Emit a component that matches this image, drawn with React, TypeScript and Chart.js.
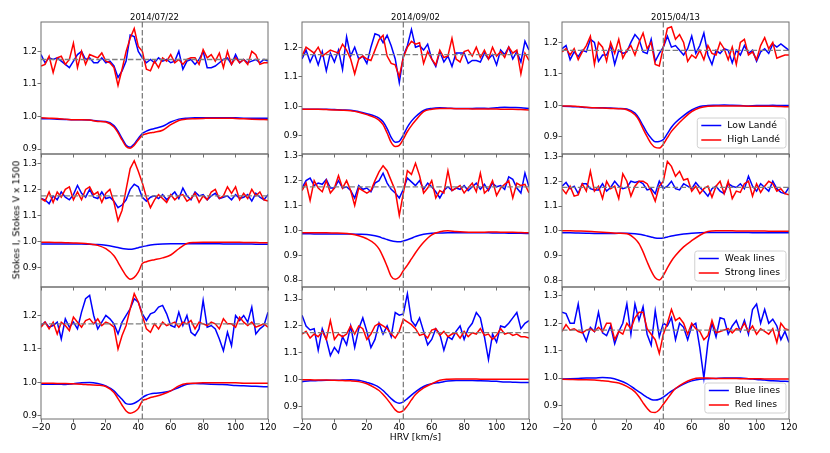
import React, { useEffect, useRef } from "react";
import { Chart, registerables } from "chart.js";

Chart.register(...registerables);

// velocity grids in km/s
const vGrid = [-20, -17.5, -15, -12.5, -10, -7.5, -5, -2.5, 0, 2.5, 5, 7.5, 10, 12.5, 15, 17.5, 20, 22.5, 25, 27.5, 30, 32.5, 35, 37.5, 40, 42.5, 45, 47.5, 50, 52.5, 55, 57.5, 60, 62.5, 65, 67.5, 70, 72.5, 75, 77.5, 80, 82.5, 85, 87.5, 90, 92.5, 95, 97.5, 100, 102.5, 105, 107.5, 110, 112.5, 115, 117.5, 120];
const iGrid = [-20, -15, -10, -5, 0, 5, 10, 15, 20, 25, 27.5, 30, 32.5, 35, 37.5, 40, 42.5, 45, 47.5, 50, 55, 60, 65, 70, 75, 80, 85, 90, 95, 100, 105, 110, 115, 120];

const xTicks = [-20, 0, 20, 40, 60, 80, 100, 120];
const yTicksLow = [0.9, 1.0, 1.1, 1.2];
const yTicksMid = [0.9, 1.0, 1.1, 1.2, 1.3];
const yTicksWide = [0.8, 0.9, 1.0, 1.1, 1.2, 1.3];

const epochs = ["2014/07/22", "2014/09/02", "2015/04/13"];
const landeNames = ["Low Landé", "High Landé"];
const depthNames = ["Weak lines", "Strong lines"];
const colourNames = ["Blue lines", "Red lines"];

const RV_CENTER = 42.5;
const V_LEVEL = 1.175;

// Stokes V x 1500 (shifted), on vGrid
const landeLowV1 = [1.19, 1.165, 1.18, 1.175, 1.18, 1.17, 1.16, 1.15, 1.17, 1.19, 1.2, 1.175, 1.18, 1.165, 1.165, 1.18, 1.165, 1.17, 1.155, 1.12, 1.14, 1.17, 1.25, 1.245, 1.2, 1.18, 1.165, 1.175, 1.165, 1.18, 1.17, 1.175, 1.165, 1.17, 1.2, 1.145, 1.17, 1.175, 1.16, 1.175, 1.2, 1.15, 1.15, 1.155, 1.165, 1.175, 1.18, 1.16, 1.19, 1.165, 1.175, 1.165, 1.17, 1.175, 1.165, 1.175, 1.17];
const landeHighV1 = [1.155, 1.16, 1.185, 1.135, 1.18, 1.185, 1.16, 1.175, 1.225, 1.15, 1.2, 1.16, 1.19, 1.185, 1.18, 1.195, 1.17, 1.165, 1.15, 1.095, 1.145, 1.2, 1.24, 1.27, 1.215, 1.2, 1.145, 1.14, 1.17, 1.15, 1.18, 1.17, 1.19, 1.165, 1.175, 1.16, 1.175, 1.18, 1.18, 1.16, 1.205, 1.18, 1.19, 1.17, 1.195, 1.15, 1.2, 1.16, 1.18, 1.165, 1.175, 1.16, 1.2, 1.19, 1.16, 1.165, 1.165];
const landeLowV2 = [1.16, 1.19, 1.15, 1.18, 1.14, 1.185, 1.12, 1.18, 1.15, 1.19, 1.125, 1.235, 1.17, 1.2, 1.16, 1.17, 1.145, 1.2, 1.245, 1.24, 1.215, 1.24, 1.205, 1.16, 1.08, 1.17, 1.205, 1.26, 1.2, 1.205, 1.19, 1.21, 1.16, 1.135, 1.185, 1.15, 1.17, 1.135, 1.18, 1.18, 1.18, 1.145, 1.155, 1.155, 1.15, 1.18, 1.16, 1.175, 1.14, 1.19, 1.175, 1.2, 1.16, 1.185, 1.15, 1.22, 1.19];
const landeHighV2 = [1.17, 1.2, 1.19, 1.18, 1.2, 1.17, 1.18, 1.19, 1.185, 1.18, 1.21, 1.19, 1.16, 1.11, 1.16, 1.17, 1.16, 1.155, 1.19, 1.225, 1.24, 1.17, 1.145, 1.14, 1.1, 1.165, 1.2, 1.22, 1.21, 1.215, 1.145, 1.185, 1.16, 1.14, 1.19, 1.165, 1.17, 1.23, 1.16, 1.15, 1.185, 1.19, 1.17, 1.2, 1.165, 1.19, 1.16, 1.2, 1.17, 1.185, 1.165, 1.2, 1.18, 1.19, 1.11, 1.18, 1.155];
const landeLowV3 = [1.18, 1.19, 1.145, 1.17, 1.155, 1.175, 1.17, 1.21, 1.2, 1.14, 1.16, 1.16, 1.19, 1.13, 1.175, 1.165, 1.17, 1.2, 1.225, 1.21, 1.17, 1.165, 1.21, 1.14, 1.165, 1.185, 1.22, 1.185, 1.19, 1.175, 1.16, 1.18, 1.22, 1.165, 1.19, 1.23, 1.16, 1.13, 1.175, 1.165, 1.18, 1.175, 1.135, 1.175, 1.16, 1.19, 1.165, 1.175, 1.14, 1.17, 1.18, 1.165, 1.195, 1.185, 1.195, 1.185, 1.175];
const landeHighV3 = [1.17, 1.18, 1.16, 1.18, 1.145, 1.17, 1.19, 1.22, 1.13, 1.2, 1.185, 1.14, 1.2, 1.165, 1.21, 1.15, 1.175, 1.19, 1.16, 1.2, 1.23, 1.18, 1.2, 1.13, 1.125, 1.185, 1.245, 1.25, 1.21, 1.225, 1.2, 1.14, 1.16, 1.15, 1.175, 1.145, 1.19, 1.165, 1.16, 1.2, 1.18, 1.145, 1.185, 1.13, 1.2, 1.21, 1.16, 1.17, 1.145, 1.19, 1.215, 1.18, 1.2, 1.15, 1.155, 1.16, 1.16];
const depthWeakV1 = [1.165, 1.16, 1.145, 1.175, 1.16, 1.19, 1.17, 1.16, 1.18, 1.215, 1.185, 1.17, 1.2, 1.17, 1.165, 1.19, 1.165, 1.17, 1.155, 1.13, 1.14, 1.16, 1.2, 1.22, 1.21, 1.17, 1.155, 1.17, 1.175, 1.165, 1.18, 1.16, 1.175, 1.19, 1.165, 1.205, 1.175, 1.16, 1.19, 1.175, 1.18, 1.16, 1.175, 1.185, 1.165, 1.17, 1.175, 1.16, 1.18, 1.165, 1.17, 1.18, 1.155, 1.185, 1.17, 1.16, 1.18];
const depthStrongV1 = [1.165, 1.155, 1.19, 1.15, 1.19, 1.17, 1.2, 1.21, 1.16, 1.19, 1.16, 1.2, 1.21, 1.18, 1.19, 1.15, 1.185, 1.2, 1.15, 1.08, 1.12, 1.2, 1.28, 1.31, 1.27, 1.225, 1.17, 1.13, 1.16, 1.18, 1.165, 1.15, 1.18, 1.16, 1.175, 1.18, 1.155, 1.165, 1.185, 1.15, 1.175, 1.16, 1.19, 1.2, 1.165, 1.175, 1.21, 1.185, 1.21, 1.16, 1.185, 1.165, 1.2, 1.175, 1.19, 1.16, 1.155];
const depthWeakV2 = [1.17, 1.2, 1.21, 1.18, 1.19, 1.185, 1.205, 1.17, 1.17, 1.2, 1.17, 1.175, 1.16, 1.13, 1.18, 1.165, 1.17, 1.155, 1.19, 1.2, 1.23, 1.19, 1.165, 1.15, 1.13, 1.165, 1.21, 1.195, 1.18, 1.2, 1.165, 1.19, 1.175, 1.155, 1.13, 1.16, 1.175, 1.16, 1.17, 1.165, 1.18, 1.16, 1.175, 1.19, 1.165, 1.185, 1.16, 1.19, 1.175, 1.18, 1.165, 1.215, 1.205, 1.17, 1.15, 1.23, 1.175];
const depthStrongV2 = [1.16, 1.19, 1.12, 1.2, 1.17, 1.155, 1.2, 1.15, 1.17, 1.22, 1.17, 1.2, 1.16, 1.1, 1.17, 1.16, 1.15, 1.16, 1.2, 1.235, 1.26, 1.24, 1.2, 1.16, 1.06, 1.15, 1.24, 1.225, 1.27, 1.22, 1.15, 1.17, 1.2, 1.13, 1.16, 1.15, 1.24, 1.16, 1.17, 1.18, 1.15, 1.17, 1.19, 1.155, 1.23, 1.15, 1.165, 1.2, 1.14, 1.17, 1.185, 1.2, 1.13, 1.19, 1.18, 1.185, 1.15];
const depthWeakV3 = [1.18, 1.195, 1.17, 1.18, 1.15, 1.19, 1.19, 1.17, 1.165, 1.165, 1.19, 1.16, 1.175, 1.2, 1.18, 1.17, 1.175, 1.2, 1.195, 1.2, 1.19, 1.165, 1.17, 1.15, 1.2, 1.17, 1.18, 1.2, 1.17, 1.165, 1.19, 1.18, 1.17, 1.195, 1.175, 1.16, 1.14, 1.17, 1.18, 1.16, 1.15, 1.19, 1.18, 1.175, 1.19, 1.17, 1.22, 1.18, 1.16, 1.19, 1.175, 1.16, 1.2, 1.17, 1.155, 1.15, 1.175];
const depthStrongV3 = [1.17, 1.15, 1.18, 1.14, 1.145, 1.19, 1.16, 1.24, 1.16, 1.18, 1.13, 1.2, 1.17, 1.18, 1.13, 1.23, 1.2, 1.14, 1.18, 1.2, 1.2, 1.19, 1.16, 1.12, 1.18, 1.2, 1.28, 1.26, 1.22, 1.24, 1.205, 1.21, 1.16, 1.18, 1.15, 1.17, 1.18, 1.135, 1.18, 1.2, 1.15, 1.2, 1.13, 1.16, 1.155, 1.19, 1.2, 1.14, 1.19, 1.155, 1.18, 1.2, 1.19, 1.16, 1.17, 1.15, 1.145];
const colourBlueV1 = [1.17, 1.18, 1.165, 1.17, 1.18, 1.13, 1.19, 1.165, 1.18, 1.16, 1.21, 1.25, 1.26, 1.2, 1.16, 1.18, 1.2, 1.19, 1.175, 1.145, 1.18, 1.2, 1.22, 1.25, 1.24, 1.205, 1.185, 1.205, 1.21, 1.225, 1.23, 1.205, 1.17, 1.165, 1.21, 1.17, 1.2, 1.15, 1.14, 1.16, 1.245, 1.165, 1.17, 1.16, 1.13, 1.095, 1.15, 1.11, 1.2, 1.185, 1.2, 1.18, 1.225, 1.145, 1.16, 1.17, 1.21];
const colourRedV1 = [1.165, 1.18, 1.16, 1.18, 1.145, 1.18, 1.17, 1.155, 1.195, 1.18, 1.165, 1.185, 1.19, 1.175, 1.19, 1.17, 1.18, 1.175, 1.165, 1.1, 1.14, 1.17, 1.22, 1.265, 1.24, 1.2, 1.16, 1.15, 1.175, 1.16, 1.18, 1.17, 1.175, 1.18, 1.165, 1.18, 1.175, 1.185, 1.16, 1.18, 1.175, 1.17, 1.18, 1.175, 1.16, 1.19, 1.175, 1.175, 1.165, 1.195, 1.18, 1.17, 1.18, 1.165, 1.17, 1.175, 1.165];
const colourBlueV2 = [1.24, 1.2, 1.185, 1.19, 1.11, 1.19, 1.15, 1.09, 1.12, 1.1, 1.16, 1.13, 1.2, 1.12, 1.19, 1.23, 1.18, 1.12, 1.15, 1.21, 1.17, 1.2, 1.16, 1.25, 1.24, 1.245, 1.32, 1.22, 1.2, 1.23, 1.18, 1.13, 1.15, 1.19, 1.17, 1.11, 1.16, 1.15, 1.18, 1.2, 1.15, 1.19, 1.21, 1.25, 1.23, 1.16, 1.075, 1.17, 1.14, 1.2, 1.195, 1.21, 1.23, 1.25, 1.19, 1.21, 1.22];
const colourRedV2 = [1.17, 1.18, 1.155, 1.17, 1.16, 1.18, 1.15, 1.22, 1.15, 1.17, 1.16, 1.17, 1.2, 1.17, 1.2, 1.19, 1.15, 1.17, 1.2, 1.21, 1.2, 1.19, 1.17, 1.155, 1.18, 1.225, 1.215, 1.205, 1.19, 1.165, 1.17, 1.155, 1.185, 1.19, 1.165, 1.18, 1.16, 1.17, 1.175, 1.155, 1.18, 1.16, 1.175, 1.17, 1.19, 1.165, 1.17, 1.15, 1.165, 1.19, 1.17, 1.175, 1.165, 1.17, 1.16, 1.16, 1.155];
const colourBlueV3 = [1.24, 1.235, 1.2, 1.2, 1.27, 1.17, 1.135, 1.185, 1.17, 1.24, 1.165, 1.155, 1.19, 1.125, 1.17, 1.2, 1.27, 1.16, 1.27, 1.21, 1.26, 1.16, 1.12, 1.245, 1.15, 1.2, 1.19, 1.22, 1.14, 1.2, 1.185, 1.14, 1.19, 1.2, 1.11, 1.0, 1.13, 1.2, 1.15, 1.22, 1.215, 1.16, 1.19, 1.21, 1.17, 1.21, 1.16, 1.25, 1.27, 1.2, 1.25, 1.2, 1.215, 1.19, 1.14, 1.17, 1.13];
const colourRedV3 = [1.17, 1.195, 1.175, 1.18, 1.17, 1.165, 1.175, 1.18, 1.17, 1.185, 1.17, 1.2, 1.2, 1.14, 1.17, 1.16, 1.2, 1.18, 1.22, 1.24, 1.24, 1.18, 1.16, 1.14, 1.09, 1.16, 1.2, 1.25, 1.21, 1.22, 1.2, 1.16, 1.2, 1.18, 1.17, 1.14, 1.155, 1.21, 1.165, 1.17, 1.175, 1.18, 1.165, 1.18, 1.175, 1.2, 1.17, 1.19, 1.16, 1.18, 1.17, 1.16, 1.18, 1.13, 1.2, 1.18, 1.175];

// Stokes I, on iGrid
const landeLowI1 = [0.993, 0.993, 0.992, 0.991, 0.99, 0.99, 0.989, 0.986, 0.985, 0.972, 0.955, 0.933, 0.912, 0.906, 0.916, 0.933, 0.948, 0.955, 0.96, 0.963, 0.97, 0.983, 0.992, 0.995, 0.996, 0.996, 0.996, 0.996, 0.996, 0.996, 0.995, 0.995, 0.995, 0.995];
const landeHighI1 = [0.996, 0.995, 0.994, 0.992, 0.99, 0.99, 0.989, 0.985, 0.983, 0.968, 0.95, 0.928, 0.908, 0.903, 0.912, 0.928, 0.942, 0.947, 0.95, 0.952, 0.958, 0.975, 0.988, 0.992, 0.993, 0.994, 0.995, 0.995, 0.995, 0.994, 0.993, 0.992, 0.991, 0.99];
const landeLowI2 = [0.99, 0.99, 0.99, 0.99, 0.989, 0.988, 0.987, 0.982, 0.975, 0.967, 0.96, 0.948, 0.925, 0.895, 0.879, 0.882, 0.903, 0.93, 0.95, 0.965, 0.986, 0.993, 0.995, 0.994, 0.993, 0.993, 0.993, 0.994, 0.993, 0.995, 0.997, 0.996, 0.995, 0.993];
const landeHighI2 = [0.99, 0.99, 0.99, 0.989, 0.988, 0.987, 0.985, 0.98, 0.972, 0.962, 0.953, 0.938, 0.91, 0.878, 0.864, 0.868, 0.889, 0.915, 0.935, 0.952, 0.982, 0.99, 0.993, 0.993, 0.992, 0.992, 0.991, 0.991, 0.991, 0.991, 0.99, 0.99, 0.989, 0.988];
const landeLowI3 = [0.997, 0.996, 0.995, 0.993, 0.992, 0.992, 0.991, 0.99, 0.988, 0.975, 0.958, 0.935, 0.912, 0.895, 0.884, 0.885, 0.891, 0.91, 0.93, 0.945, 0.967, 0.985, 0.996, 0.999, 1.0, 1.001, 1.0, 0.999, 0.998, 0.999, 0.999, 1.0, 0.999, 0.999];
const landeHighI3 = [0.998, 0.998, 0.996, 0.994, 0.992, 0.991, 0.99, 0.989, 0.986, 0.97, 0.952, 0.925, 0.9, 0.878, 0.866, 0.864, 0.876, 0.897, 0.917, 0.932, 0.958, 0.98, 0.992, 0.997, 0.998, 0.998, 0.998, 0.998, 0.997, 0.997, 0.997, 0.997, 0.996, 0.995];
const depthWeakI1 = [0.99, 0.99, 0.99, 0.99, 0.99, 0.99, 0.989, 0.988, 0.985, 0.98, 0.977, 0.973, 0.971, 0.97, 0.972, 0.976, 0.98, 0.983, 0.986, 0.988, 0.99, 0.991, 0.991, 0.991, 0.991, 0.991, 0.991, 0.991, 0.99, 0.99, 0.99, 0.99, 0.989, 0.989];
const depthStrongI1 = [0.997, 0.997, 0.996, 0.995, 0.994, 0.993, 0.99, 0.985, 0.972, 0.945, 0.92, 0.893, 0.868, 0.855, 0.862, 0.882, 0.915, 0.922, 0.927, 0.93, 0.937, 0.948, 0.972, 0.992, 0.996, 0.997, 0.997, 0.997, 0.997, 0.997, 0.996, 0.996, 0.995, 0.995];
const depthWeakI2 = [0.986, 0.986, 0.985, 0.985, 0.985, 0.985, 0.985, 0.984, 0.983, 0.978, 0.974, 0.968, 0.963, 0.958, 0.955, 0.954, 0.957, 0.962, 0.968, 0.975, 0.984, 0.988, 0.989, 0.99, 0.99, 0.99, 0.99, 0.99, 0.99, 0.989, 0.989, 0.988, 0.988, 0.987];
const depthStrongI2 = [0.99, 0.99, 0.99, 0.99, 0.989, 0.988, 0.985, 0.978, 0.966, 0.945, 0.925, 0.893, 0.855, 0.815, 0.803, 0.812, 0.838, 0.86, 0.885, 0.91, 0.952, 0.982, 0.994, 0.998, 0.995, 0.993, 0.992, 0.992, 0.993, 0.993, 0.992, 0.992, 0.991, 0.99];
const depthWeakI3 = [0.992, 0.992, 0.991, 0.99, 0.989, 0.989, 0.989, 0.99, 0.99, 0.988, 0.986, 0.983, 0.979, 0.975, 0.971, 0.97, 0.971, 0.975, 0.979, 0.982, 0.987, 0.99, 0.992, 0.993, 0.993, 0.993, 0.993, 0.993, 0.993, 0.992, 0.992, 0.992, 0.992, 0.992];
const depthStrongI3 = [1.0, 1.0, 0.999, 0.998, 0.996, 0.994, 0.992, 0.99, 0.988, 0.968, 0.948, 0.915, 0.875, 0.838, 0.81, 0.801, 0.82, 0.85, 0.878, 0.9, 0.935, 0.96, 0.982, 0.997, 1.0, 1.0, 1.0, 0.999, 0.999, 0.999, 0.999, 0.998, 0.998, 0.998];
const colourBlueI1 = [0.995, 0.995, 0.995, 0.994, 0.996, 0.999, 1.0, 0.997, 0.99, 0.975, 0.962, 0.95, 0.937, 0.935, 0.938, 0.945, 0.955, 0.962, 0.966, 0.968, 0.97, 0.975, 0.985, 0.995, 0.997, 0.996, 0.995, 0.994, 0.993, 0.991, 0.99, 0.989, 0.988, 0.987];
const colourRedI1 = [0.998, 0.998, 0.997, 0.997, 0.996, 0.995, 0.993, 0.992, 0.988, 0.97, 0.952, 0.932, 0.915, 0.908, 0.912, 0.922, 0.945, 0.95, 0.955, 0.958, 0.965, 0.975, 0.99, 0.997, 0.998, 0.999, 0.999, 0.999, 0.999, 0.999, 0.998, 0.998, 0.998, 0.998];
const colourBlueI2 = [0.993, 0.996, 0.997, 0.998, 0.998, 0.999, 1.0, 0.998, 0.99, 0.98, 0.972, 0.96, 0.945, 0.93, 0.918, 0.913, 0.918, 0.93, 0.943, 0.955, 0.975, 0.985, 0.99, 0.995, 0.997, 0.997, 0.997, 0.996, 0.995, 0.994, 0.992, 0.991, 0.99, 0.99];
const colourRedI2 = [1.0, 1.0, 0.999, 0.999, 0.998, 0.997, 0.996, 0.993, 0.985, 0.97, 0.96, 0.945, 0.928, 0.908, 0.888, 0.879, 0.885, 0.903, 0.925, 0.945, 0.97, 0.985, 0.998, 1.002, 1.003, 1.003, 1.003, 1.002, 1.002, 1.002, 1.002, 1.002, 1.002, 1.002];
const colourBlueI3 = [0.997, 0.998, 0.999, 1.0, 1.0, 1.002, 1.0, 0.992, 0.98, 0.96, 0.95, 0.94, 0.93, 0.922, 0.92, 0.923, 0.931, 0.942, 0.953, 0.962, 0.978, 0.99, 0.996, 0.998, 0.999, 1.0, 1.0, 1.0, 0.998, 0.995, 0.993, 0.99, 0.989, 0.988];
const colourRedI3 = [0.996, 0.995, 0.994, 0.994, 0.993, 0.99, 0.987, 0.982, 0.97, 0.95, 0.932, 0.91, 0.89, 0.876, 0.875, 0.885, 0.905, 0.925, 0.945, 0.962, 0.982, 0.995, 1.0, 1.0, 0.999, 0.999, 0.999, 0.998, 0.998, 0.998, 0.997, 0.997, 0.997, 0.997];

type PanelDef = {
  row: number;
  col: number;
  names: string[];
  v: number[][];
  i: number[][];
  yMin: number;
  yMax: number;
  yTicks: number[];
  legend: boolean;
};

const panels: PanelDef[] = [
  { row: 0, col: 0, names: landeNames, v: [landeLowV1, landeHighV1], i: [landeLowI1, landeHighI1], yMin: 0.885, yMax: 1.29, yTicks: yTicksLow, legend: false },
  { row: 0, col: 1, names: landeNames, v: [landeLowV2, landeHighV2], i: [landeLowI2, landeHighI2], yMin: 0.839, yMax: 1.285, yTicks: yTicksLow, legend: false },
  { row: 0, col: 2, names: landeNames, v: [landeLowV3, landeHighV3], i: [landeLowI3, landeHighI3], yMin: 0.845, yMax: 1.265, yTicks: yTicksLow, legend: true },
  { row: 1, col: 0, names: depthNames, v: [depthWeakV1, depthStrongV1], i: [depthWeakI1, depthStrongI1], yMin: 0.825, yMax: 1.336, yTicks: yTicksMid, legend: false },
  { row: 1, col: 1, names: depthNames, v: [depthWeakV2, depthStrongV2], i: [depthWeakI2, depthStrongI2], yMin: 0.772, yMax: 1.307, yTicks: yTicksWide, legend: false },
  { row: 1, col: 2, names: depthNames, v: [depthWeakV3, depthStrongV3], i: [depthWeakI3, depthStrongI3], yMin: 0.773, yMax: 1.31, yTicks: yTicksWide, legend: true },
  { row: 2, col: 0, names: colourNames, v: [colourBlueV1, colourRedV1], i: [colourBlueI1, colourRedI1], yMin: 0.891, yMax: 1.285, yTicks: yTicksLow, legend: false },
  { row: 2, col: 1, names: colourNames, v: [colourBlueV2, colourRedV2], i: [colourBlueI2, colourRedI2], yMin: 0.854, yMax: 1.345, yTicks: yTicksMid, legend: false },
  { row: 2, col: 2, names: colourNames, v: [colourBlueV3, colourRedV3], i: [colourBlueI3, colourRedI3], yMin: 0.851, yMax: 1.332, yTicks: yTicksMid, legend: true },
];

const COLOURS = ["#0000ff", "#ff0000"];
const FONT = "'DejaVu Sans', sans-serif";
const FRAME = "#6f6f6f";

const COL_LEFT = [41, 302, 562];
const ROW_TOP = [22, 154, 287];
const PANEL_W = 227;
const PANEL_H = [132, 133, 132];
const PAD_L = 36;
const PAD_T = 8;
const PAD_R = 14;

const refLines = {
  id: "refLines",
  afterDatasetsDraw(chart: any) {
    const { ctx, chartArea: a, scales } = chart;
    const x = scales.x.getPixelForValue(RV_CENTER);
    const y = scales.y.getPixelForValue(V_LEVEL);
    ctx.save();
    ctx.beginPath();
    ctx.rect(a.left, a.top, a.width, a.height);
    ctx.clip();
    ctx.strokeStyle = "#7f7f7f";
    ctx.lineWidth = 1.3;
    ctx.setLineDash([5.5, 2.4]);
    ctx.beginPath();
    ctx.moveTo(a.left, y);
    ctx.lineTo(a.right, y);
    ctx.stroke();
    ctx.beginPath();
    ctx.moveTo(x, a.top);
    ctx.lineTo(x, a.bottom);
    ctx.stroke();
    ctx.restore();
  },
};

const frameAndLegend = {
  id: "frameAndLegend",
  afterDraw(chart: any, _args: any, opts: any) {
    const { ctx, chartArea: a } = chart;
    ctx.save();
    ctx.strokeStyle = FRAME;
    ctx.lineWidth = 1;
    ctx.strokeRect(a.left, a.top, a.width, a.height);
    if (opts && opts.display) {
      const items = chart.data.datasets.filter((d: any) => d.inLegend);
      ctx.font = "9.3px " + FONT;
      const tw = Math.max(...items.map((d: any) => ctx.measureText(d.label).width));
      const w = tw + 36;
      const h = 30;
      const x0 = a.right - 3 - w;
      const y0 = a.bottom - 6 - h;
      ctx.beginPath();
      ctx.roundRect(x0, y0, w, h, 2.5);
      ctx.fillStyle = "rgba(255,255,255,0.85)";
      ctx.fill();
      ctx.strokeStyle = "#d0d0d0";
      ctx.stroke();
      items.forEach((d: any, k: number) => {
        const cy = y0 + 7.5 + k * 14.5;
        ctx.strokeStyle = d.borderColor;
        ctx.lineWidth = 1.5;
        ctx.beginPath();
        ctx.moveTo(x0 + 4, cy);
        ctx.lineTo(x0 + 24, cy);
        ctx.stroke();
        ctx.fillStyle = "#000";
        ctx.textBaseline = "middle";
        ctx.fillText(d.label, x0 + 30, cy);
      });
    }
    ctx.restore();
  },
};

function Panel({ p }: { p: PanelDef }) {
  const ref = useRef<HTMLCanvasElement>(null);
  const bottom = p.row === 2;
  const padB = bottom ? 22 : 8;
  const width = PAD_L + PANEL_W + PAD_R;
  const height = PAD_T + PANEL_H[p.row] + padB;

  useEffect(() => {
    const ctx = ref.current?.getContext("2d");
    if (!ctx) return;

    const vSets = p.v.map((vals, k) => ({
      label: p.names[k],
      data: vGrid.map((x, j) => ({ x, y: vals[j] })),
      borderColor: COLOURS[k],
      borderWidth: 1.5,
      pointRadius: 0,
      tension: 0,
      order: 1 - k,
      inLegend: false,
    }));
    const iSets = p.i.map((vals, k) => ({
      label: p.names[k],
      data: iGrid.map((x, j) => ({ x, y: vals[j] })),
      borderColor: COLOURS[k],
      borderWidth: 1.5,
      pointRadius: 0,
      cubicInterpolationMode: "monotone",
      order: 1 - k,
      inLegend: true,
    }));

    const tickFont = { family: FONT, size: 9 };
    const chart = new Chart(ctx, {
      type: "line",
      data: { datasets: [...iSets, ...vSets] as any },
      options: {
        responsive: false,
        animation: false,
        events: [],
        layout: { padding: { left: 0, top: PAD_T, right: PAD_R, bottom: 0 } },
        plugins: {
          legend: { display: false },
          tooltip: { enabled: false },
          frameAndLegend: { display: p.legend },
        } as any,
        scales: {
          x: {
            type: "linear",
            min: -20,
            max: 120,
            afterBuildTicks: (s: any) => {
              s.ticks = xTicks.map((value) => ({ value }));
            },
            afterFit: (s: any) => {
              s.height = padB;
            },
            border: { display: false },
            grid: { drawOnChartArea: false, drawTicks: true, tickLength: 3.5, color: FRAME, tickWidth: 1 },
            ticks: {
              display: bottom,
              autoSkip: false,
              maxRotation: 0,
              padding: 0,
              color: "#000",
              font: tickFont,
              callback: (v: any) => (v < 0 ? "\u2212" + Math.abs(v) : String(v)),
            },
          },
          y: {
            type: "linear",
            min: p.yMin,
            max: p.yMax,
            afterBuildTicks: (s: any) => {
              s.ticks = p.yTicks.map((value) => ({ value }));
            },
            afterFit: (s: any) => {
              s.width = PAD_L;
            },
            border: { display: false },
            grid: { drawOnChartArea: false, drawTicks: true, tickLength: 3.5, color: FRAME, tickWidth: 1 },
            ticks: {
              autoSkip: false,
              padding: 0.5,
              color: "#000",
              font: tickFont,
              callback: (v: any) => Number(v).toFixed(1),
            },
          },
        },
      },
      plugins: [refLines, frameAndLegend],
    } as any);

    return () => {
      chart.destroy();
    };
  }, [p, padB]);

  return (
    <canvas
      ref={ref}
      width={width}
      height={height}
      style={{
        position: "absolute",
        left: COL_LEFT[p.col] - PAD_L,
        top: ROW_TOP[p.row] - PAD_T,
        width,
        height,
      }}
    />
  );
}

const textBase: React.CSSProperties = {
  position: "absolute",
  fontFamily: FONT,
  color: "#000",
  whiteSpace: "nowrap",
  lineHeight: 1,
};

export default function App() {
  return (
    <div style={{ position: "absolute", left: 0, top: 0, width: 830, height: 453, overflow: "hidden", background: "#fff" }}>
      {panels.map((p, k) => (
        <Panel key={k} p={p} />
      ))}
      {epochs.map((t, k) => (
        <div
          key={t}
          style={{ ...textBase, fontSize: 8.5, left: COL_LEFT[k] + PANEL_W / 2, top: 16.7, transform: "translate(-50%, -50%)" }}
        >
          {t}
        </div>
      ))}
      <div style={{ ...textBase, fontSize: 9.4, left: 16, top: 220, transform: "translate(-50%, -50%) rotate(-90deg)" }}>
        Stokes I, Stokes V x 1500
      </div>
      <div style={{ ...textBase, fontSize: 9.2, left: COL_LEFT[1] + PANEL_W / 2, top: 437, transform: "translate(-50%, -50%)" }}>
        HRV [km/s]
      </div>
    </div>
  );
}
